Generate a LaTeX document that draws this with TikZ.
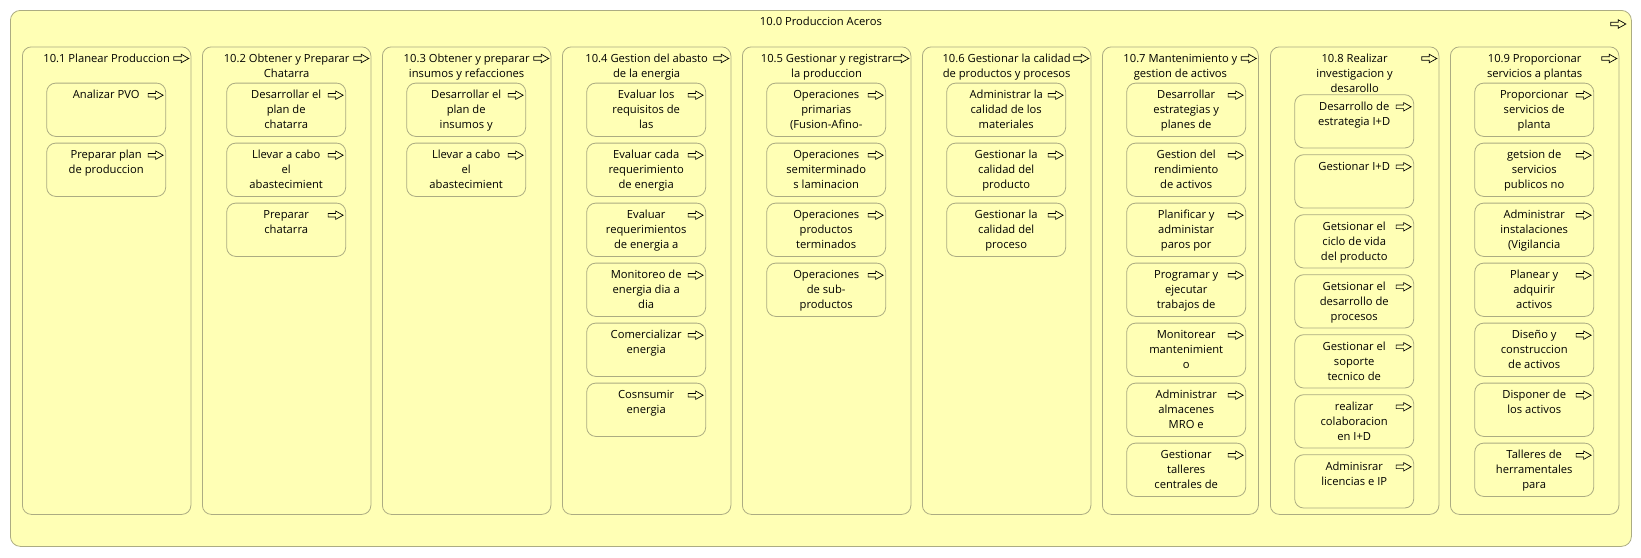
\documentclass[tikz,border=0pt]{standalone}
\usepackage{fontspec}
\setmainfont{Open Sans}
\usetikzlibrary{positioning, calc}
\definecolor{notefill}{RGB}{255,255,181}
\definecolor{noteline}{RGB}{172,172,130}
\tikzset{%
  outerbox/.style={draw=noteline, fill=notefill, rounded corners=10pt, line width=0.8pt,
              anchor=north west, inner sep=0pt},
  colbox/.style={draw=noteline, fill=notefill, rounded corners=9pt, line width=0.8pt,
              anchor=north west, inner sep=0pt, minimum height=467.5pt},
  procbox/.style={draw=noteline, fill=notefill, rounded corners=9pt, line width=0.8pt,
              anchor=north west, inner sep=0pt, minimum width=119pt, minimum height=53.3pt},
  boxtext/.style={anchor=north, align=center, inner sep=0pt,
              font=\fontsize{11.2}{15}\selectfont},
  goicon/.pic={\draw[line width=0.7pt, line join=miter]
              (-15,-1.8) -- (-7.5,-1.8) -- (-7.5,-4.2) -- (0,0) -- (-7.5,4.2)
              -- (-7.5,1.8) -- (-15,1.8) -- cycle;},
}

\begin{document}
\begin{tikzpicture}[x=1pt, y=-1pt]
\useasboundingbox (0,0) rectangle (1641,557);

% outer frame
\node[outerbox, minimum width=1621pt, minimum height=536pt] (main) at (10,10) {};
\node[boxtext] (main-t) at ([yshift=-5pt]main.north) {\strut 10.0 Produccion Aceros};
\pic at ([xshift=-6pt,yshift=-14pt]main.north east) {goicon};

% columns with their titles
\foreach \n/\x/\w/\ttl in {%
    1/22/168.5/{10.1 Planear Produccion},
    2/202/168.5/{10.2 Obtener y Preparar\\Chatarra},
    3/382/168.5/{10.3 Obtener y preparar\\insumos y refacciones},
    4/562/168.5/{10.4 Gestion del abasto\\de la energia},
    5/742/168.5/{10.5 Gestionar y registrar\\la produccion},
    6/922/168.5/{10.6 Gestionar la calidad\\de productos y procesos},
    7/1102/156/{10.7 Mantenimiento y\\gestion de activos},
    8/1270/168.5/{10.8 Realizar\\investigacion y\\desarollo},
    9/1450/168.5/{10.9 Proporcionar\\servicios a plantas}}{
  \node[colbox, minimum width=\w pt] (c\n) at (\x,46.5) {};
  \node[boxtext] (c\n-t) at ([yshift=-5pt]c\n.north) {\strut\ttl};
  \pic at ([xshift=-2.5pt,yshift=-12pt]c\n.north east) {goicon};
}

% process boxes in each column
\foreach \n/\x/\y/\items in {%
    1/46.3/82.7/{{Analizar PVO},{Preparar plan\\de produccion}},
    2/226.3/82.7/{{Desarrollar el\\plan de\\chatarra},{Llevar a cabo\\el\\abastecimient},
                  {Preparar\\chatarra}},
    3/406.3/82.7/{{Desarrollar el\\plan de\\insumos y},{Llevar a cabo\\el\\abastecimient}},
    4/586.3/82.7/{{Evaluar los\\requisitos de\\las},{Evaluar cada\\requerimiento\\de energia},
                  {Evaluar\\requerimientos\\de energia a},{Monitoreo de\\energia dia a\\dia},
                  {Comercializar\\energia},{Cosnsumir\\energia}},
    5/766.3/82.7/{{Operaciones\\primarias\\(Fusion-Afino-},{Operaciones\\semiterminado\\s laminacion},
                  {Operaciones\\productos\\terminados},{Operaciones\\de sub-\\productos}},
    6/946.3/82.7/{{Administrar la\\calidad de los\\materiales},{Gestionar la\\calidad del\\producto},
                  {Gestionar la\\calidad del\\proceso}},
    7/1126.3/82.7/{{Desarrollar\\estrategias y\\planes de},{Gestion del\\rendimiento\\de activos},
                  {Planificar y\\administar\\paros por},{Programar y\\ejecutar\\trabajos de},
                  {Monitorear\\mantenimient\\o},{Administrar\\almacenes\\MRO e},
                  {Gestionar\\talleres\\centrales de}},
    8/1294.3/94.3/{{Desarrollo de\\estrategia I+D},{Gestionar I+D},
                  {Getsionar el\\ciclo de vida\\del producto},{Getsionar el\\desarrollo de\\procesos},
                  {Gestionar el\\soporte\\tecnico de},{realizar\\colaboracion\\en I+D},
                  {Adminisrar\\licencias e IP}},
    9/1474.3/82.7/{{Proporcionar\\servicios de\\planta},{getsion de\\servicios\\publicos no},
                  {Administrar\\instalaciones\\(Vigilancia},{Planear y\\adquirir\\activos},
                  {Diseño y\\construccion\\de activos},{Disponer de\\los activos},
                  {Talleres de\\herramentales\\para}}}{
  \foreach \txt [count=\i] in \items {
    \node[procbox] (c\n-\i) at (\x,{\y+60*(\i-1)}) {};
    \node[boxtext] (c\n-\i-t) at ([yshift=-5pt]c\n-\i.north) {\strut\txt};
    \pic at ([xshift=-3pt,yshift=-12.5pt]c\n-\i.north east) {goicon};
  }
}

\end{tikzpicture}
\end{document}
